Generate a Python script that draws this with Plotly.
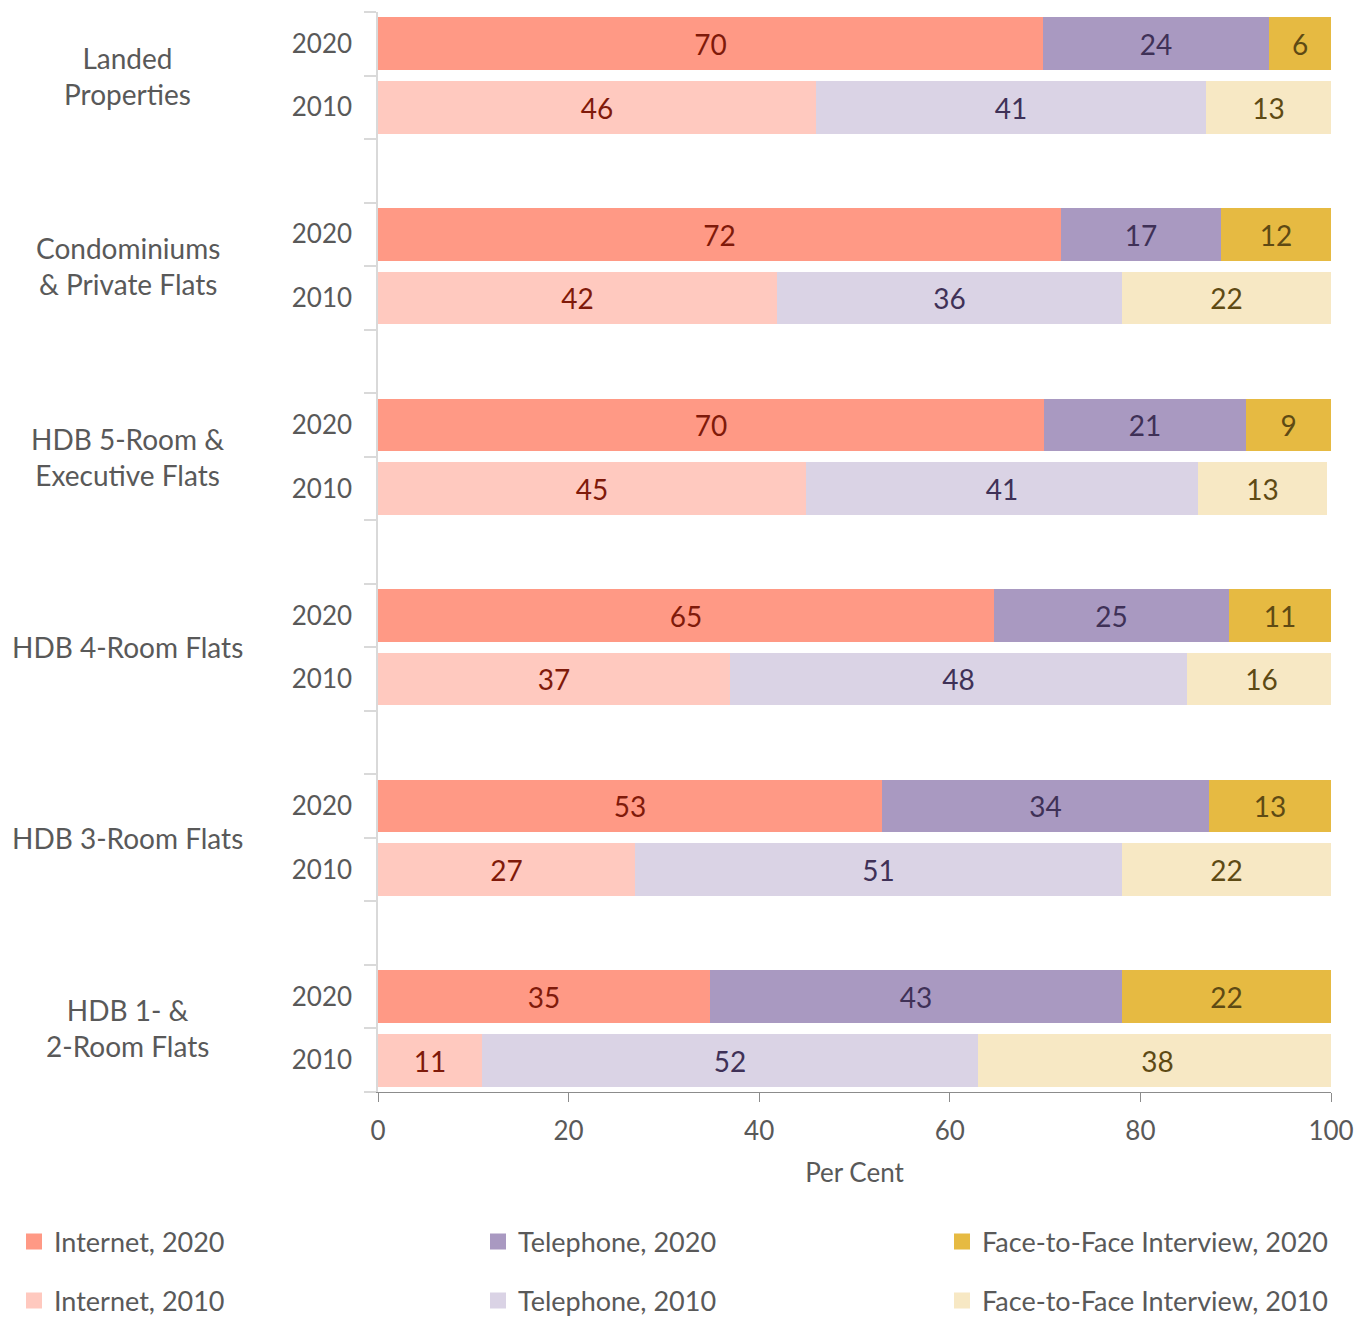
import plotly.graph_objects as go

categories = ["Landed<br>Properties", "Condominiums<br>& Private Flats", "HDB 5-Room &<br>Executive Flats",
              "HDB 4-Room Flats", "HDB 3-Room Flats", "HDB 1- &<br>2-Room Flats"]
years = ["2020", "2010"]

internet_2020 = [69.8, 71.7, 69.9, 64.6, 52.9, 34.8]
telephone_2020 = [23.7, 16.8, 21.2, 24.7, 34.3, 43.3]
f2f_2020 = [6.5, 11.5, 8.9, 10.7, 12.8, 21.9]
internet_2010 = [46.0, 41.9, 44.9, 36.9, 27.0, 10.9]
telephone_2010 = [40.9, 36.2, 41.1, 48.0, 51.1, 52.1]
f2f_2010 = [13.1, 21.9, 13.6, 15.6, 21.9, 37.6]

lab_internet_2020 = ["70", "72", "70", "65", "53", "35"]
lab_telephone_2020 = ["24", "17", "21", "25", "34", "43"]
lab_f2f_2020 = ["6", "12", "9", "11", "13", "22"]
lab_internet_2010 = ["46", "42", "45", "37", "27", "11"]
lab_telephone_2010 = ["41", "36", "41", "48", "51", "52"]
lab_f2f_2010 = ["13", "22", "13", "16", "22", "38"]

xticks = [0, 20, 40, 60, 80, 100]

FONT = "Lato"
GREY = "#595959"
n = len(categories)
pos2020 = [i * 3 for i in range(n)]
pos2010 = [i * 3 + 1 for i in range(n)]

series = [
    ("Internet, 2020", internet_2020, lab_internet_2020, pos2020, "#FF9985", "#7F1A0A", "legend"),
    ("Telephone, 2020", telephone_2020, lab_telephone_2020, pos2020, "#A999C1", "#3F3157", "legend2"),
    ("Face-to-Face Interview, 2020", f2f_2020, lab_f2f_2020, pos2020, "#E6BA42", "#5E4A14", "legend3"),
    ("Internet, 2010", internet_2010, lab_internet_2010, pos2010, "#FFC9BF", "#7F1A0A", "legend4"),
    ("Telephone, 2010", telephone_2010, lab_telephone_2010, pos2010, "#DAD3E5", "#3F3157", "legend5"),
    ("Face-to-Face Interview, 2010", f2f_2010, lab_f2f_2010, pos2010, "#F7E8C4", "#5E4A14", "legend6"),
]

fig = go.Figure()
for name, vals, labs, pos, col, tcol, lg in series:
    fig.add_trace(go.Bar(
        name=name, x=vals, y=pos, orientation="h", width=0.83,
        marker=dict(color=col, line=dict(width=0)),
        text=labs, textposition="inside", insidetextanchor="middle",
        textangle=0, constraintext="none",
        textfont=dict(family=FONT, size=28, color=tcol),
        showlegend=False, legendgroup=name,
    ))
    # legend entry with a larger square swatch
    fig.add_trace(go.Scatter(
        name=name, x=[None], y=[None], mode="markers",
        marker=dict(symbol="square", size=16, color=col, line=dict(width=0)),
        legend=lg, showlegend=True, legendgroup=name, hoverinfo="skip",
    ))

tickpos = []
ticktext = []
for i in range(n):
    tickpos += [pos2020[i], pos2010[i]]
    ticktext += years

# the page places the figure 8px from the top-left corner
OFF = 8
W, H = 1369 - OFF, 1322 - OFF
ML, MR, MT, MB = 378 - OFF, 38, 12 - OFF, 230
plot_w = W - ML - MR
plot_h = H - MT - MB
PLOT_LEFT_PAGE = 378
PLOT_BOTTOM_PAGE = 1092

fig.update_layout(
    barmode="stack",
    width=W, height=H,
    margin=dict(l=ML, r=MR, t=MT, b=MB, autoexpand=False),
    paper_bgcolor="white", plot_bgcolor="white",
    font=dict(family=FONT, size=26, color=GREY),
    bargap=0,
    xaxis=dict(
        range=[0, 100], tickvals=xticks, ticks="outside", ticklen=9, tickcolor="#8c8c8c",
        showline=True, linecolor="#8c8c8c", linewidth=1, showgrid=False, zeroline=False,
        tickfont=dict(family=FONT, size=26, color=GREY), ticklabelstandoff=7,
        title=dict(text="Per Cent", font=dict(family=FONT, size=26, color=GREY), standoff=18),
    ),
    yaxis=dict(
        range=[16.5, -0.5], tickmode="array", tickvals=tickpos, ticktext=ticktext,
        ticks="", showline=True, linecolor="#d9d9d9", linewidth=1.5, showgrid=False, zeroline=False,
        tickfont=dict(family=FONT, size=26, color=GREY), ticklabelstandoff=19,
        minor=dict(tick0=-0.5, dtick=1, ticks="outside", ticklen=12, tickcolor="#d9d9d9", tickwidth=1.5,
                   showgrid=False),
    ),
)

leg_x = [14, 478, 942]
leg_y = [1242, 1301]
names = ["legend", "legend2", "legend3", "legend4", "legend5", "legend6"]
for k, ln in enumerate(names):
    col = k % 3
    row = k // 3
    fig.update_layout({ln: dict(
        x=(leg_x[col] - PLOT_LEFT_PAGE) / plot_w, y=(PLOT_BOTTOM_PAGE - leg_y[row]) / plot_h,
        xanchor="left", yanchor="middle", bgcolor="rgba(0,0,0,0)",
        font=dict(family=FONT, size=27, color=GREY), itemwidth=30,
    )})

for i, cat in enumerate(categories):
    fig.add_annotation(
        x=(128 - PLOT_LEFT_PAGE) / plot_w, xref="paper", y=i * 3 + 0.5, yref="y",
        text=cat, showarrow=False, align="center", xanchor="center", yanchor="middle",
        font=dict(family=FONT, size=28, color=GREY),
    )

fig.write_html("out.html")
